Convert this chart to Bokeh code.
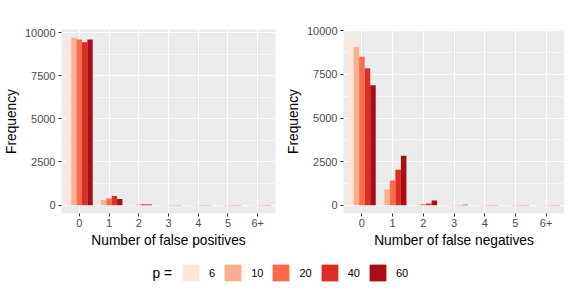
from bokeh.plotting import figure
from bokeh.layouts import column, row
from bokeh.models import (Range1d, FixedTicker, SingleIntervalTicker, Legend,
                          LegendItem, ColumnDataSource, Label)
from bokeh.transform import dodge
from bokeh.embed import file_html
from bokeh.resources import INLINE

categories = ["0", "1", "2", "3", "4", "5", "6+"]
p_levels = ["6", "10", "20", "40", "60"]
colors = ["#FEE5D9", "#FCAE91", "#FB6A4A", "#DE2D26", "#A50F15"]

# false positives counts per p
fp_p6 = [9590, 400, 10, 4, 2, 2, 2]
fp_p10 = [9690, 300, 15, 4, 2, 2, 2]
fp_p20 = [9600, 380, 25, 5, 2, 2, 2]
fp_p40 = [9440, 530, 45, 6, 3, 2, 2]
fp_p60 = [9600, 360, 30, 5, 2, 2, 2]

# false negatives counts per p
fn_p6 = [9600, 390, 10, 3, 2, 2, 2]
fn_p10 = [9070, 900, 25, 4, 2, 2, 2]
fn_p20 = [8520, 1420, 50, 10, 2, 2, 2]
fn_p40 = [7860, 2030, 95, 15, 3, 2, 2]
fn_p60 = [6880, 2830, 260, 25, 4, 2, 2]

FONT = "Liberation Sans"
PLOT_W = 221


def make_panel(series, xlabel, border_left, border_right):
    data = {"x": list(range(len(categories)))}
    for lev, vals in zip(p_levels, series):
        data["p" + lev] = vals
    src = ColumnDataSource(data)
    ymax = max(max(v) for v in series)
    p = figure(width=border_left + PLOT_W + border_right, height=251,
               x_range=Range1d(-0.6, len(categories) - 0.4),
               y_range=Range1d(-0.05 * ymax, 1.05 * ymax),
               output_backend="svg", toolbar_location=None,
               min_border_left=border_left, min_border_right=border_right,
               min_border_top=29, min_border_bottom=38)
    p.background_fill_color = "#EBEBEB"
    p.border_fill_color = "white"
    p.outline_line_color = None
    n = len(p_levels)
    w = 0.9 / n
    for i, lev in enumerate(p_levels):
        off = (i - (n - 1) / 2) * w
        p.vbar(x=dodge("x", off, range=p.x_range), top="p" + lev, bottom=0,
               width=w, source=src, fill_color=colors[i], line_color=None)
    p.xaxis.ticker = FixedTicker(ticks=list(range(len(categories))))
    p.xaxis.major_label_overrides = {i: c for i, c in enumerate(categories)}
    p.yaxis.ticker = SingleIntervalTicker(interval=2500, num_minor_ticks=2)
    for ax in (p.xaxis[0], p.yaxis[0]):
        ax.axis_line_color = None
        ax.major_tick_line_color = "#333333"
        ax.major_tick_out = 3
        ax.major_tick_in = 0
        ax.minor_tick_line_color = None
        ax.major_label_text_font = FONT
        ax.major_label_text_font_size = "11px"
        ax.major_label_text_color = "#4D4D4D"
        ax.major_label_standoff = 2
        ax.axis_label_text_font = FONT
        ax.axis_label_text_font_size = "13.75px"
        ax.axis_label_text_font_style = "normal"
        ax.axis_label_text_color = "black"
        ax.axis_label_standoff = 3
    p.xaxis.axis_label = xlabel
    p.yaxis.axis_label = "Frequency"
    p.xgrid.grid_line_color = "white"
    p.xgrid.grid_line_width = 1.1
    p.ygrid.grid_line_color = "white"
    p.ygrid.grid_line_width = 1.1
    p.ygrid.minor_grid_line_color = "white"
    p.ygrid.minor_grid_line_width = 0.55
    return p


left = make_panel([fp_p6, fp_p10, fp_p20, fp_p40, fp_p60],
                  "Number of false positives", 54, 6)
right = make_panel([fn_p6, fn_p10, fn_p20, fn_p40, fn_p60],
                   "Number of false negatives", 62, 0)

lg = figure(width=564, height=32, x_range=Range1d(0, 1), y_range=Range1d(0, 1),
            x_axis_type=None, y_axis_type=None, output_backend="svg",
            toolbar_location=None, min_border=0)
lg.outline_line_color = None
lg.grid.visible = False
lg.background_fill_color = "white"
lg.border_fill_color = "white"
items = []
for lev, c in zip(p_levels, colors):
    # zero-size placeholder glyph: only its legend swatch is seen
    r = lg.vbar(x=[0], top=[0], bottom=[0], width=0, fill_color=c, line_color=None)
    items.append(LegendItem(label=lev, renderers=[r]))
legend = Legend(items=items, orientation="horizontal", location=(180, 0),
                glyph_width=21, glyph_height=21, label_standoff=8, spacing=7,
                label_width=0, label_height=21, padding=0, margin=0,
                border_line_color=None, background_fill_alpha=0,
                label_text_font=FONT, label_text_font_size="11px",
                label_text_color="black")
lg.add_layout(legend, "center")
lg.add_layout(Label(x=152, y=10.5, x_units="screen", y_units="screen",
                    text="p =", text_font=FONT, text_font_size="13.75px",
                    text_baseline="middle", text_align="left",
                    text_color="black"))

layout = column(row(left, right), lg)
open("out.html", "w").write(file_html(layout, INLINE))
